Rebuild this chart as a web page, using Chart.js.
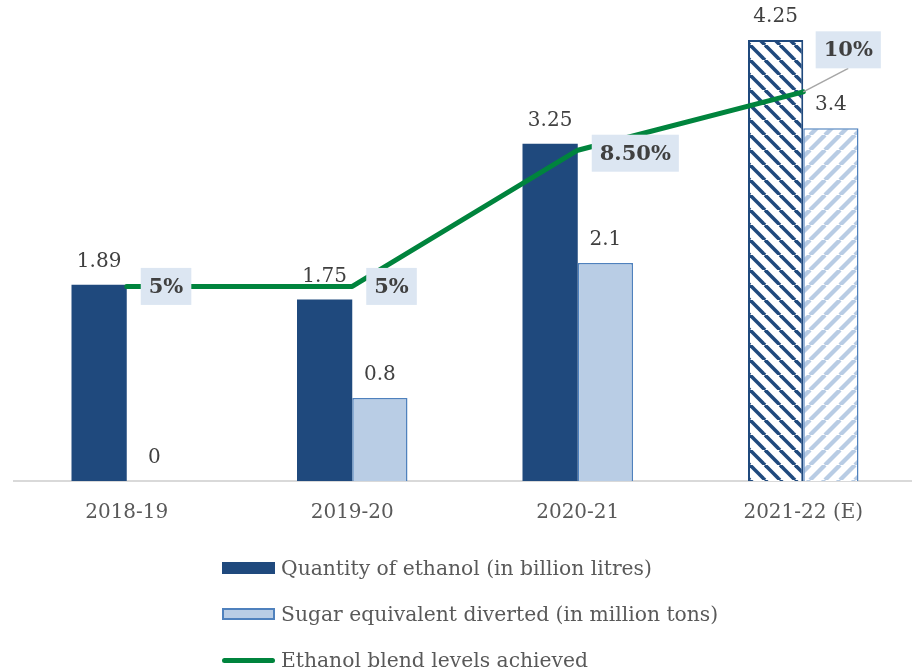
<!DOCTYPE html>
<html>
<head>
<meta charset="utf-8">
<script src="https://cdn.jsdelivr.net/npm/chart.js@4.4.0/dist/chart.umd.min.js"></script>
<style>
  html, body { margin: 0; padding: 0; background: #fff; overflow: hidden; width: 912px; height: 672px; }
  #wrap { position: relative; width: 916px; height: 560px; }
  #legend { position: absolute; left: 222px; top: 545px; font-family: "DejaVu Serif", serif; font-size: 20.3px; color: #595959; }
  .row { position: relative; height: 46px; display: flex; align-items: center; }
  .mk { width: 53px; height: 12px; margin-right: 6px; box-sizing: border-box; }
</style>
</head>
<body>
<div id="wrap"><canvas id="c" width="916" height="560"></canvas></div>
<div id="legend"></div>
<script>
const categories = ['2018-19', '2019-20', '2020-21', '2021-22 (E)'];
const ethanolQty = [1.89, 1.75, 3.25, 4.25];
const sugarDiverted = [0, 0.8, 2.1, 3.4];
const blendLevels = [5, 5, 8.5, 10];
const blendLabels = ['5%', '5%', '8.50%', '10%'];
const seriesNames = ['Quantity of ethanol (in billion litres)', 'Sugar equivalent diverted (in million tons)', 'Ethanol blend levels achieved'];

const DARK = '#1F497D';
const LIGHT = '#B9CDE5';
const LIGHT_BORDER = '#4F81BD';
const GREEN = '#00843D';

function stripes(color, dir, lw) {
  const s = 15;
  const c = document.createElement('canvas');
  c.width = s; c.height = s;
  const g = c.getContext('2d');
  g.fillStyle = '#fff'; g.fillRect(0, 0, s, s);
  g.strokeStyle = color; g.lineWidth = lw;
  for (let k = -1; k <= 1; k++) {
    g.beginPath();
    if (dir === '\\') { g.moveTo(k * s, 0); g.lineTo(k * s + s, s); }
    else { g.moveTo(k * s, s); g.lineTo(k * s + s, 0); }
    g.stroke();
  }
  return document.getElementById('c').getContext('2d').createPattern(c, 'repeat');
}
const darkPat = stripes(DARK, '\\', 3.6);
const lightPat = stripes('#B8CCE4', '/', 4.3);

const barLabels = {
  id: 'barLabels',
  afterDatasetsDraw(chart) {
    const ctx = chart.ctx;
    ctx.save();
    ctx.font = '20px "DejaVu Serif"';
    ctx.fillStyle = '#404040';
    ctx.textAlign = 'center';
    ctx.textBaseline = 'middle';
    [0, 1].forEach(di => {
      const meta = chart.getDatasetMeta(di);
      meta.data.forEach((el, i) => {
        ctx.fillText(String(chart.data.datasets[di].data[i]), el.x, el.y - 23);
      });
    });
    // line labels
    const meta = chart.getDatasetMeta(2);
    ctx.font = 'bold 21px "DejaVu Serif"';
    meta.data.forEach((el, i) => {
      const t = blendLabels[i];
      const w = ctx.measureText(t).width + 16;
      const h = 37;
      let cx, cy;
      if (i === 3) {
        cx = el.x + 45; cy = el.y - 42;
        ctx.strokeStyle = '#A6A6A6'; ctx.lineWidth = 1.5;
        ctx.beginPath(); ctx.moveTo(el.x, el.y); ctx.lineTo(cx, cy + h / 2); ctx.stroke();
      } else {
        cx = el.x + 14 + w / 2; cy = el.y + (i === 2 ? 3 : 0);
      }
      ctx.fillStyle = '#DCE6F2';
      ctx.fillRect(cx - w / 2, cy - h / 2, w, h);
      ctx.fillStyle = '#404040';
      ctx.fillText(t, cx, cy + 1);
    });
    ctx.restore();
  }
};

new Chart(document.getElementById('c'), {
  type: 'bar',
  data: {
    labels: categories,
    datasets: [
      {
        label: seriesNames[0], data: ethanolQty, yAxisID: 'y', order: 2,
        backgroundColor: ethanolQty.map((v, i) => i === 3 ? darkPat : DARK),
        borderColor: DARK, borderWidth: ethanolQty.map((v, i) => i === 3 ? 2 : 0),
        categoryPercentage: 0.49, barPercentage: 1
      },
      {
        label: seriesNames[1], data: sugarDiverted, yAxisID: 'y', order: 2,
        backgroundColor: sugarDiverted.map((v, i) => i === 3 ? lightPat : LIGHT),
        borderColor: LIGHT_BORDER, borderWidth: 1.5,
        categoryPercentage: 0.49, barPercentage: 1
      },
      {
        type: 'line', label: seriesNames[2], data: blendLevels, yAxisID: 'y2', order: 0,
        borderColor: GREEN, borderWidth: 5, pointRadius: 0, tension: 0, fill: false,
        borderCapStyle: 'round', borderJoinStyle: 'round'
      }
    ]
  },
  options: {
    responsive: false,
    animation: false,
    devicePixelRatio: 1,
    layout: { padding: { left: 14, right: 0, top: 14, bottom: 15 } },
    plugins: { legend: { display: false }, tooltip: { enabled: false } },
    scales: {
      x: {
        grid: { display: false, drawTicks: false },
        border: { display: true, color: '#D9D9D9', width: 2 },
        ticks: { color: '#595959', font: { family: 'DejaVu Serif', size: 20 }, padding: 20 }
      },
      y: { display: false, min: 0, max: 4.5 },
      y2: { display: false, min: 0, max: 12 }
    }
  },
  plugins: [barLabels]
});

// HTML legend
const legend = document.getElementById('legend');
seriesNames.forEach((name, i) => {
  const row = document.createElement('div');
  row.className = 'row';
  const mk = document.createElement('div');
  mk.className = 'mk';
  if (i === 0) { mk.style.background = DARK; }
  else if (i === 1) { mk.style.background = LIGHT; mk.style.border = '2px solid ' + LIGHT_BORDER; }
  else { mk.style.height = '5px'; mk.style.background = GREEN; mk.style.borderRadius = '3px'; }
  const tx = document.createElement('span');
  tx.textContent = name;
  row.appendChild(mk); row.appendChild(tx);
  legend.appendChild(row);
});
</script>
</body>
</html>
